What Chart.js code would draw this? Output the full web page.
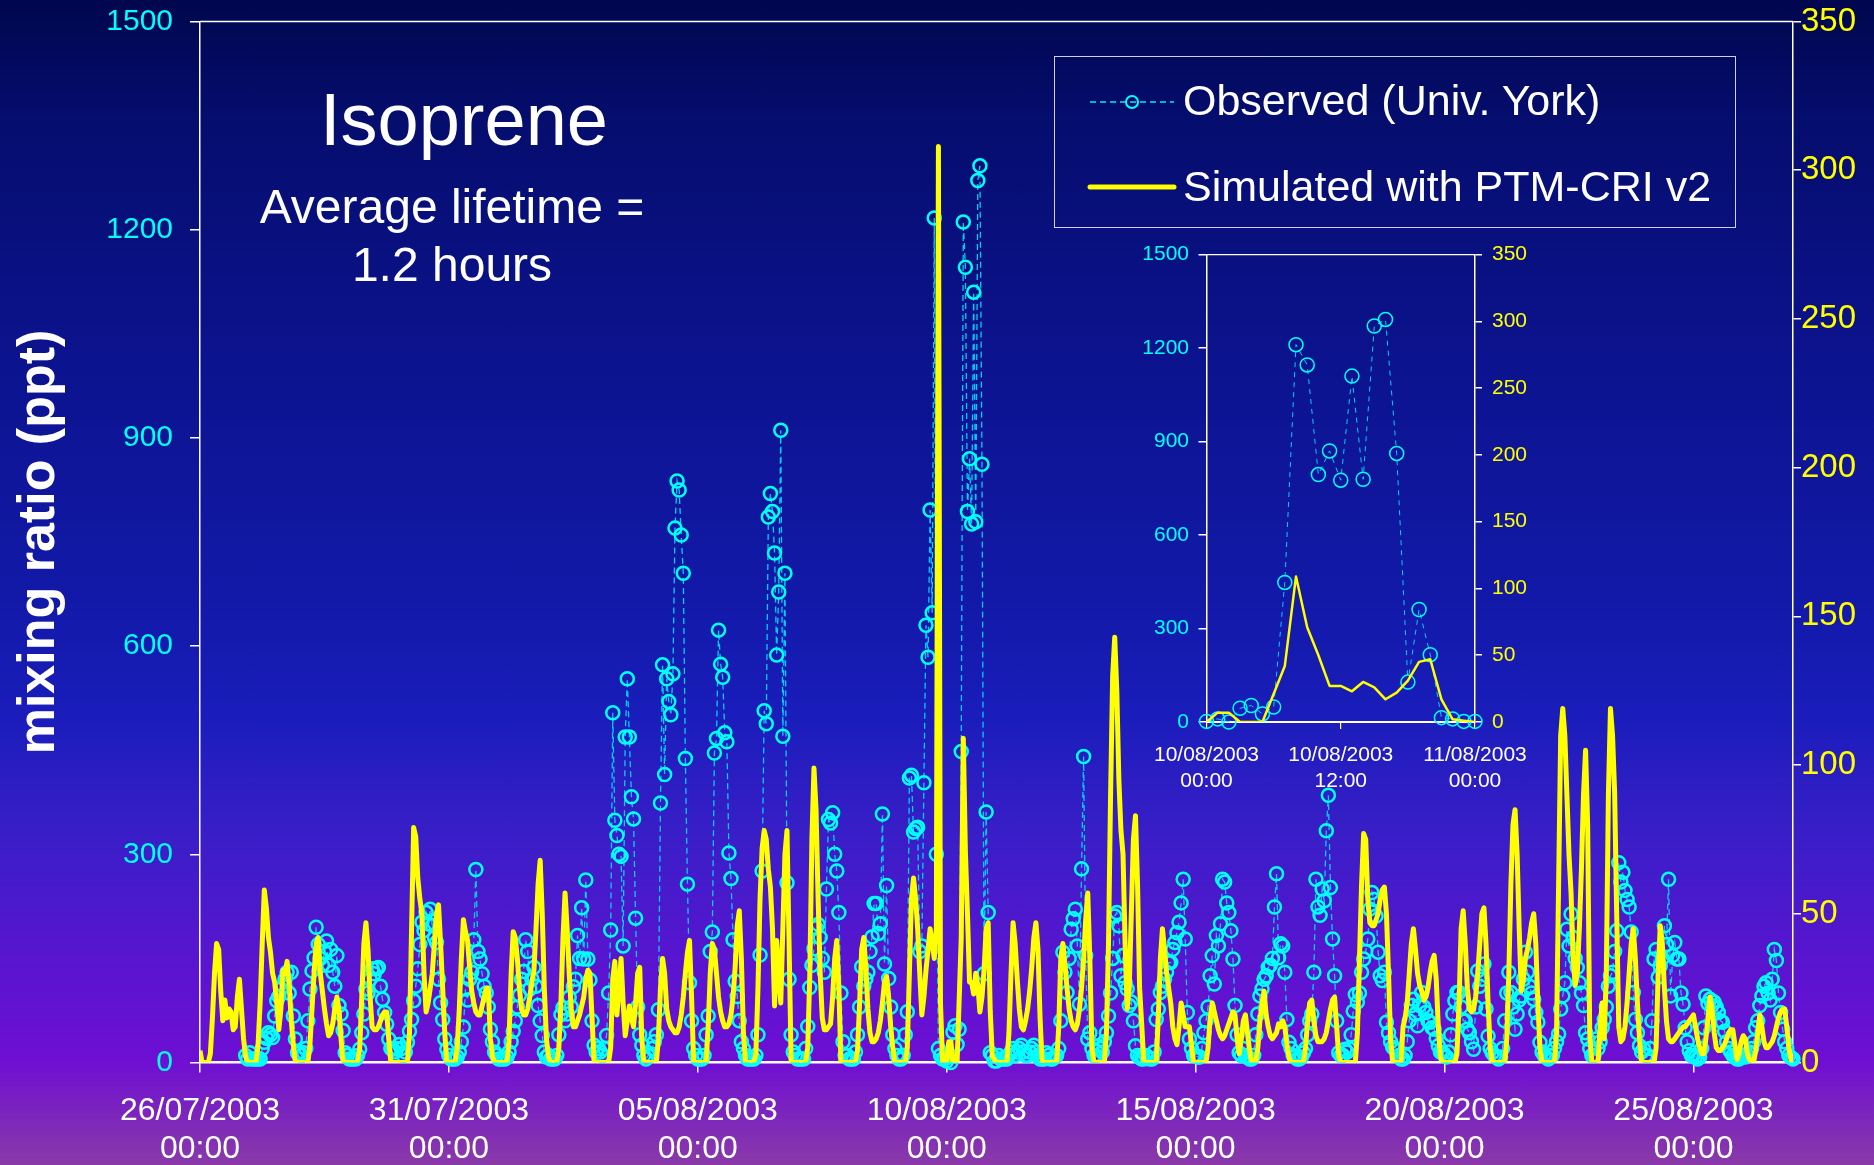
<!DOCTYPE html>
<html>
<head>
<meta charset="utf-8">
<title>Isoprene</title>
<script src="https://cdn.jsdelivr.net/npm/chart.js@4.4.1/dist/chart.umd.min.js"></script>
<style>
  html, body { margin: 0; padding: 0; }
  body {
    width: 1874px; height: 1165px; position: relative; overflow: hidden;
    font-family: 'Liberation Sans', Arial, sans-serif; color: #fff;
    background: linear-gradient(to bottom, #00074e 0px, #050d6e 120px, #0c138e 360px, #1219a8 600px,
      #1a1dbb 717px, #3a1ec8 837px, #5815cf 956px, #6e0fd3 1062px, #8a3aa8 1165px);
  }
  canvas { position: absolute; }
  #main { left: 0; top: 0; }
  #inset { left: 1120px; top: 230px; }
  .label { position: absolute; white-space: nowrap; }
  .title { left: 264px; top: 83px; width: 400px; text-align: center; font-size: 74px; line-height: 74px; }
  .subtitle { left: 252px; top: 178px; width: 400px; text-align: center; font-size: 48px; line-height: 58px; }
  .legend-box { position: absolute; left: 1054px; top: 56px; width: 680px; height: 170px; border: 1.5px solid #cfd0ea; }
  .legend-text { left: 1183px; font-size: 43px; line-height: 43px; }
  .legend-keys { position: absolute; left: 1086px; top: 80px; }
</style>
</head>
<body>
<canvas id="main" width="1874" height="1165"></canvas>
<canvas id="inset" width="440" height="570"></canvas>

<div class="label title">Isoprene</div>
<div class="label subtitle">Average lifetime =<br>1.2 hours</div>

<div class="legend-box"></div>
<svg class="legend-keys" width="95" height="130">
  <line x1="4" y1="22" x2="88" y2="22" stroke="#00e8ff" stroke-width="1.3" stroke-dasharray="6 4"/>
  <circle cx="46" cy="22" r="6" fill="none" stroke="#00ffff" stroke-width="2"/>
  <line x1="4" y1="107" x2="88" y2="107" stroke="#ffff00" stroke-width="5" stroke-linecap="round"/>
</svg>
<div class="label legend-text" style="top:79px">Observed (Univ. York)</div>
<div class="label legend-text" style="top:165px">Simulated with PTM-CRI v2</div>

<script>
// Hourly series from 26/07/2003 00:00 (index 0) to 27/08/2003 00:00 (index 768)
const xTickLabels = ['26/07/2003', '31/07/2003', '05/08/2003', '10/08/2003', '15/08/2003', '20/08/2003', '25/08/2003']
const HOURS_PER_TICK = 120

// Observed isoprene, ppt (left axis)
const observedPpt = [
  null,null,null,null,null,null,null,null,null,null,null,null,null,null,null,null,null,null,null,null,null,null,10,5, // 26/07
  14,5,5,5,5,5,20,29,35,43,40,36,67,89,95,106,110,120,130,100,130,67,34,14,
  14,10,14,20,60,106,132,151,195,170,150,140,160,175,140,163,130,110,154,82,70,46,14,10,
  5,5,5,5,10,19,43,70,106,100,120,135,128,135,137,110,91,72,55,34,20,19,15,20,
  26,20,10,15,29,45,62,89,110,135,170,202,190,216,200,221,197,180,173,120,86,62,34,19,
  10,5,5,5,8,15,30,51,106,90,120,130,177,278,160,149,128,110,100,80,48,30,15,10, // 31/07
  5,5,5,5,8,15,30,45,60,80,97,120,131,177,160,106,120,137,110,82,60,39,15,8,
  10,5,5,5,10,40,69,79,60,70,94,80,109,120,183,150,223,149,263,149,119,60,25,15,
  20,15,10,20,39,100,191,504,349,327,300,297,168,469,553,469,383,351,208,80,40,25,10,5,
  10,10,20,30,40,76,374,573,415,553,520,501,560,770,838,825,760,705,438,257,115,60,20,10,
  5,5,5,10,40,67,160,188,446,467,623,574,555,475,462,302,265,177,117,95,60,30,20,10, // 05/08
  5,5,5,5,10,40,155,276,507,488,786,820,794,734,587,678,911,470,705,259,120,40,15,10,
  5,5,5,5,20,52,108,140,164,194,199,180,150,130,250,350,345,360,300,276,216,100,30,10,
  10,5,5,5,15,40,80,138,110,120,130,160,181,229,229,186,200,358,142,255,121,80,40,20,
  10,5,5,10,40,73,410,414,332,337,339,160,168,403,630,584,796,648,1217,300,20,10,5,5,
  2,10,0,44,53,26,48,448,1211,1146,794,870,776,1110,779,1271,1292,862,128,361,216,14,10,2, // 10/08
  2,10,5,5,5,5,10,15,20,10,15,20,25,15,10,10,15,20,25,15,10,5,5,5,
  14,10,5,5,8,10,20,60,159,130,101,150,192,207,221,168,84,279,441,154,34,43,20,10,
  10,24,20,15,30,43,67,100,150,211,216,197,125,154,115,106,82,87,60,24,10,7,5,5,
  10,8,5,5,15,62,77,101,110,120,130,144,144,163,173,187,202,230,264,178,72,34,20,10,
  10,8,8,20,43,60,80,125,154,113,183,168,200,264,260,230,216,190,149,82,40,14,10,20, // 15/08
  10,8,5,5,10,40,70,96,106,120,125,137,140,150,224,272,151,171,168,130,62,29,20,10,
  8,5,5,8,14,20,40,60,70,130,264,224,212,250,233,334,385,252,178,125,60,14,10,10,
  19,15,20,40,74,98,87,100,130,149,160,178,221,245,235,211,159,125,118,130,58,43,30,22,
  20,19,10,5,5,10,30,60,82,91,70,53,82,101,80,72,60,58,50,48,35,24,15,14,
  10,8,15,40,70,89,101,101,80,60,60,48,43,30,19,80,132,110,120,142,77,38,20,14, // 20/08
  10,8,5,8,20,60,100,130,101,80,48,70,90,96,120,159,130,110,100,91,72,58,29,15,
  10,8,5,10,10,20,30,41,77,96,115,192,168,214,180,150,137,115,100,82,43,34,20,10,
  10,34,20,30,50,62,80,110,125,130,160,190,288,260,274,248,235,224,188,101,62,43,24,15,
  19,10,10,20,60,149,163,123,139,150,197,170,264,96,154,173,149,149,100,84,50,30,17,10,
  10,8,5,8,20,50,96,85,91,82,87,80,72,60,58,45,30,20,15,10,8,5,5,8, // 25/08
  10,8,10,15,20,30,50,60,82,96,110,115,100,90,120,163,147,100,72,48,30,20,10,7,
  5
]

// PTM-CRI v2 simulation, ppt (right axis)
const simulatedPpt = [
  4,0,0,0,0,3,15,30,40,38,24,14,21,15,18,17,11,12,22,28,18,8,2,0, // 26/07
  0,0,0,0,6,20,40,58,52,42,37,30,27,20,11,18,31,30,34,26,14,6,0,0,
  0,0,0,0,0,6,18,30,40,42,30,24,18,13,9,10,13,18,22,18,8,0,0,0,
  0,0,0,0,0,5,22,40,47,38,22,12,11,11,12,14,16,17,17,8,0,0,0,0,
  0,0,0,0,0,10,45,79,76,62,55,50,30,17,20,25,30,40,50,53,40,25,10,0,
  0,0,0,0,5,18,35,48,44,41,32,24,20,17,16,16,19,22,25,25,8,2,0,0, // 31/07
  0,0,0,0,0,8,30,44,42,35,25,18,16,16,18,22,27,31,45,60,68,50,25,8,
  2,0,0,0,0,5,20,42,57,45,30,18,12,12,14,16,19,22,28,31,30,15,0,0,
  0,0,0,0,0,0,5,28,34,16,25,35,20,9,14,19,15,12,20,30,32,8,0,0,
  0,0,0,0,0,8,25,35,30,18,14,12,11,10,10,12,16,22,30,37,41,22,0,0,
  0,0,0,0,0,12,30,40,38,30,22,17,14,12,12,13,16,22,32,46,51,35,10,0, // 05/08
  0,0,0,0,3,25,55,72,78,75,65,59,45,19,41,30,20,45,70,78,40,0,0,0,
  0,0,0,0,0,5,30,75,99,85,55,30,15,11,11,12,13,22,35,41,25,0,0,0,
  0,0,0,0,0,4,20,38,42,32,18,10,7,7,8,10,14,20,27,29,22,12,5,0,
  0,0,0,0,0,5,30,55,62,55,45,30,16,22,31,38,45,40,35,45,308,20,0,0,
  0,7,7,0,0,0,21,42,109,71,50,27,27,23,30,26,17,22,31,45,47,17,2,1, // 10/08
  0,0,0,0,0,0,10,30,47,40,28,18,12,11,14,18,24,32,42,47,38,15,0,0,
  0,0,0,0,0,0,12,35,40,33,25,18,14,12,11,13,18,25,35,48,57,35,5,0,
  0,0,0,0,0,10,40,90,130,143,125,95,78,70,40,18,25,50,75,83,60,25,13,0,
  0,0,0,0,0,0,15,35,45,38,30,25,20,12,8,6,12,20,16,12,12,12,6,0,
  0,0,0,0,0,0,5,15,20,17,14,11,9,8,9,11,13,15,17,16,8,3,8,14, // 15/08
  16,10,4,0,0,0,5,14,20,24,16,12,9,8,9,10,13,12,14,12,6,2,0,0,
  0,0,0,0,0,5,14,20,21,14,9,7,7,7,8,10,14,18,21,22,12,2,0,0,
  0,0,0,0,0,0,10,35,60,77,75,55,47,46,46,48,50,55,58,59,50,30,8,0,
  0,0,0,0,12,15,20,30,40,45,38,30,26,24,21,22,25,30,34,36,28,12,2,0,
  0,0,0,0,0,0,3,20,45,51,40,25,18,17,18,22,30,40,50,52,40,20,5,0, // 20/08
  0,0,0,0,0,0,8,30,60,80,85,70,45,24,28,35,38,42,47,50,40,20,5,0,
  0,0,0,0,0,0,10,60,110,119,110,90,70,57,35,26,30,45,65,90,105,80,10,0,
  0,0,0,12,20,8,30,90,119,110,91,50,12,7,8,12,20,30,40,45,35,20,8,0,
  0,0,0,0,0,0,5,30,46,40,25,14,8,7,7,8,9,10,11,12,12,13,14,15,
  16,12,8,5,3,3,8,15,22,18,10,5,4,4,5,6,8,10,11,11,6,1,3,7, // 25/08
  9,8,3,1,0,0,4,10,16,12,7,5,5,6,7,9,12,15,17,18,18,12,5,1,
  0
]

// Inset: the 24 hours of 10/08/2003
const INSET_START = 360
const insetTickLabels = [['10/08/2003', '00:00'], ['10/08/2003', '12:00'], ['11/08/2003', '00:00']]

const FONT = "'Liberation Sans', Arial, sans-serif"
const CYAN = '#00ffff'
const YELLOW = '#ffff00'
Chart.defaults.font.family = FONT

const toPoints = (values) => values.map((v, i) => ({ x: i, y: v }))

// white line along the top of the plot area, closing the frame
const frameTop = {
    id: 'frameTop',
    afterDraw(chart, args, opts) {
        const { ctx, chartArea } = chart
        ctx.save()
        ctx.strokeStyle = opts.color
        ctx.lineWidth = opts.width
        ctx.beginPath()
        ctx.moveTo(chartArea.left, chartArea.top)
        ctx.lineTo(chartArea.right, chartArea.top)
        ctx.stroke()
        ctx.restore()
    }
}

function observedDataset(values, style) {
    return {
        label: 'Observed (Univ. York)',
        data: toPoints(values),
        yAxisID: 'y',
        order: 1,
        borderColor: 'rgba(0,225,255,0.9)',
        borderWidth: style.line,
        borderDash: style.dash,
        pointRadius: style.radius,
        pointBorderWidth: style.ring,
        pointBorderColor: CYAN,
        pointBackgroundColor: 'rgba(0,0,0,0)',
        spanGaps: false,
        clip: false,
        tension: 0
    }
}

function simulatedDataset(values, width) {
    return {
        label: 'Simulated with PTM-CRI v2',
        data: toPoints(values),
        yAxisID: 'y1',
        order: 0,
        borderColor: YELLOW,
        borderWidth: width,
        borderJoinStyle: 'round',
        pointRadius: 0,
        tension: 0
    }
}

// y axes get a fixed width and no label overhang, so the plot area lands where the layout asks
function sideAxis(position, max, step, color, size, tickLength, padding, width) {
    return {
        position,
        min: 0,
        max,
        afterFit: (scale) => {
            scale.width = width
            scale.paddingTop = 0
            scale.paddingBottom = 0
        },
        ticks: { stepSize: step, color, font: { size }, padding, callback: (v) => String(v) },
        grid: { drawOnChartArea: false, tickLength, color: '#ffffff', lineWidth: 1.5 },
        border: { color: '#ffffff', width: 1.5 }
    }
}

const mainLeft = sideAxis('left', 1500, 300, CYAN, 30, 10, 17, 200)
mainLeft.title = {
    display: true,
    text: 'mixing ratio (ppt)',
    color: '#ffffff',
    font: { size: 52, weight: 'bold', lineHeight: 1 },
    padding: { top: 14, bottom: 0 }
}

new Chart(document.getElementById('main'), {
    type: 'line',
    data: {
        datasets: [
            simulatedDataset(simulatedPpt, 5),
            observedDataset(observedPpt, { line: 1.3, dash: [6, 4], radius: 6.5, ring: 2.5 })
        ]
    },
    options: {
        responsive: false,
        animation: false,
        events: [],
        layout: { padding: { top: 21.5 } },
        plugins: {
            legend: { display: false },
            tooltip: { enabled: false },
            frameTop: { color: '#ffffff', width: 1.5 }
        },
        scales: {
            x: {
                type: 'linear',
                min: 0,
                max: observedPpt.length - 1,
                afterFit: (scale) => { scale.height = 102.5 },
                afterBuildTicks: (scale) => {
                    scale.ticks = xTickLabels.map((_, i) => ({ value: i * HOURS_PER_TICK }))
                },
                ticks: {
                    autoSkip: false,
                    maxRotation: 0,
                    color: '#ffffff',
                    font: { size: 32, lineHeight: 1.2 },
                    padding: 19,
                    callback: (value) => [xTickLabels[value / HOURS_PER_TICK], '00:00']
                },
                grid: { drawOnChartArea: false, tickLength: 10, color: '#ffffff', lineWidth: 1.5 },
                border: { color: '#ffffff', width: 2.5 }
            },
            y: mainLeft,
            y1: sideAxis('right', 350, 50, YELLOW, 33, 8, 0, 81)
        }
    },
    plugins: [frameTop]
})

// inset chart, zoomed on 10/08
const insetObserved = observedPpt.slice(INSET_START, INSET_START + 25)
const insetSimulated = simulatedPpt.slice(INSET_START, INSET_START + 25)

new Chart(document.getElementById('inset'), {
    type: 'line',
    data: {
        datasets: [
            simulatedDataset(insetSimulated, 2.5),
            observedDataset(insetObserved, { line: 1, dash: [5, 5], radius: 7, ring: 1.5 })
        ]
    },
    options: {
        responsive: false,
        animation: false,
        events: [],
        layout: { padding: { top: 24.6 } },
        plugins: {
            legend: { display: false },
            tooltip: { enabled: false },
            frameTop: { color: '#ffffff', width: 1.2 }
        },
        scales: {
            x: {
                type: 'linear',
                min: 0,
                max: 24,
                afterFit: (scale) => { scale.height = 78 },
                afterBuildTicks: (scale) => {
                    scale.ticks = insetTickLabels.map((_, i) => ({ value: i * 12 }))
                },
                ticks: {
                    autoSkip: false,
                    maxRotation: 0,
                    color: '#ffffff',
                    font: { size: 21, lineHeight: 1.2 },
                    padding: 14,
                    callback: (value) => insetTickLabels[value / 12]
                },
                grid: { drawOnChartArea: false, tickLength: 7, color: '#ffffff', lineWidth: 1.2 },
                border: { color: '#ffffff', width: 2 }
            },
            y: sideAxis('left', 1500, 300, CYAN, 21, 8, 9.5, 86.5),
            y1: sideAxis('right', 350, 50, YELLOW, 21, 7, 10, 85)
        }
    },
    plugins: [frameTop]
})
</script>
</body>
</html>
